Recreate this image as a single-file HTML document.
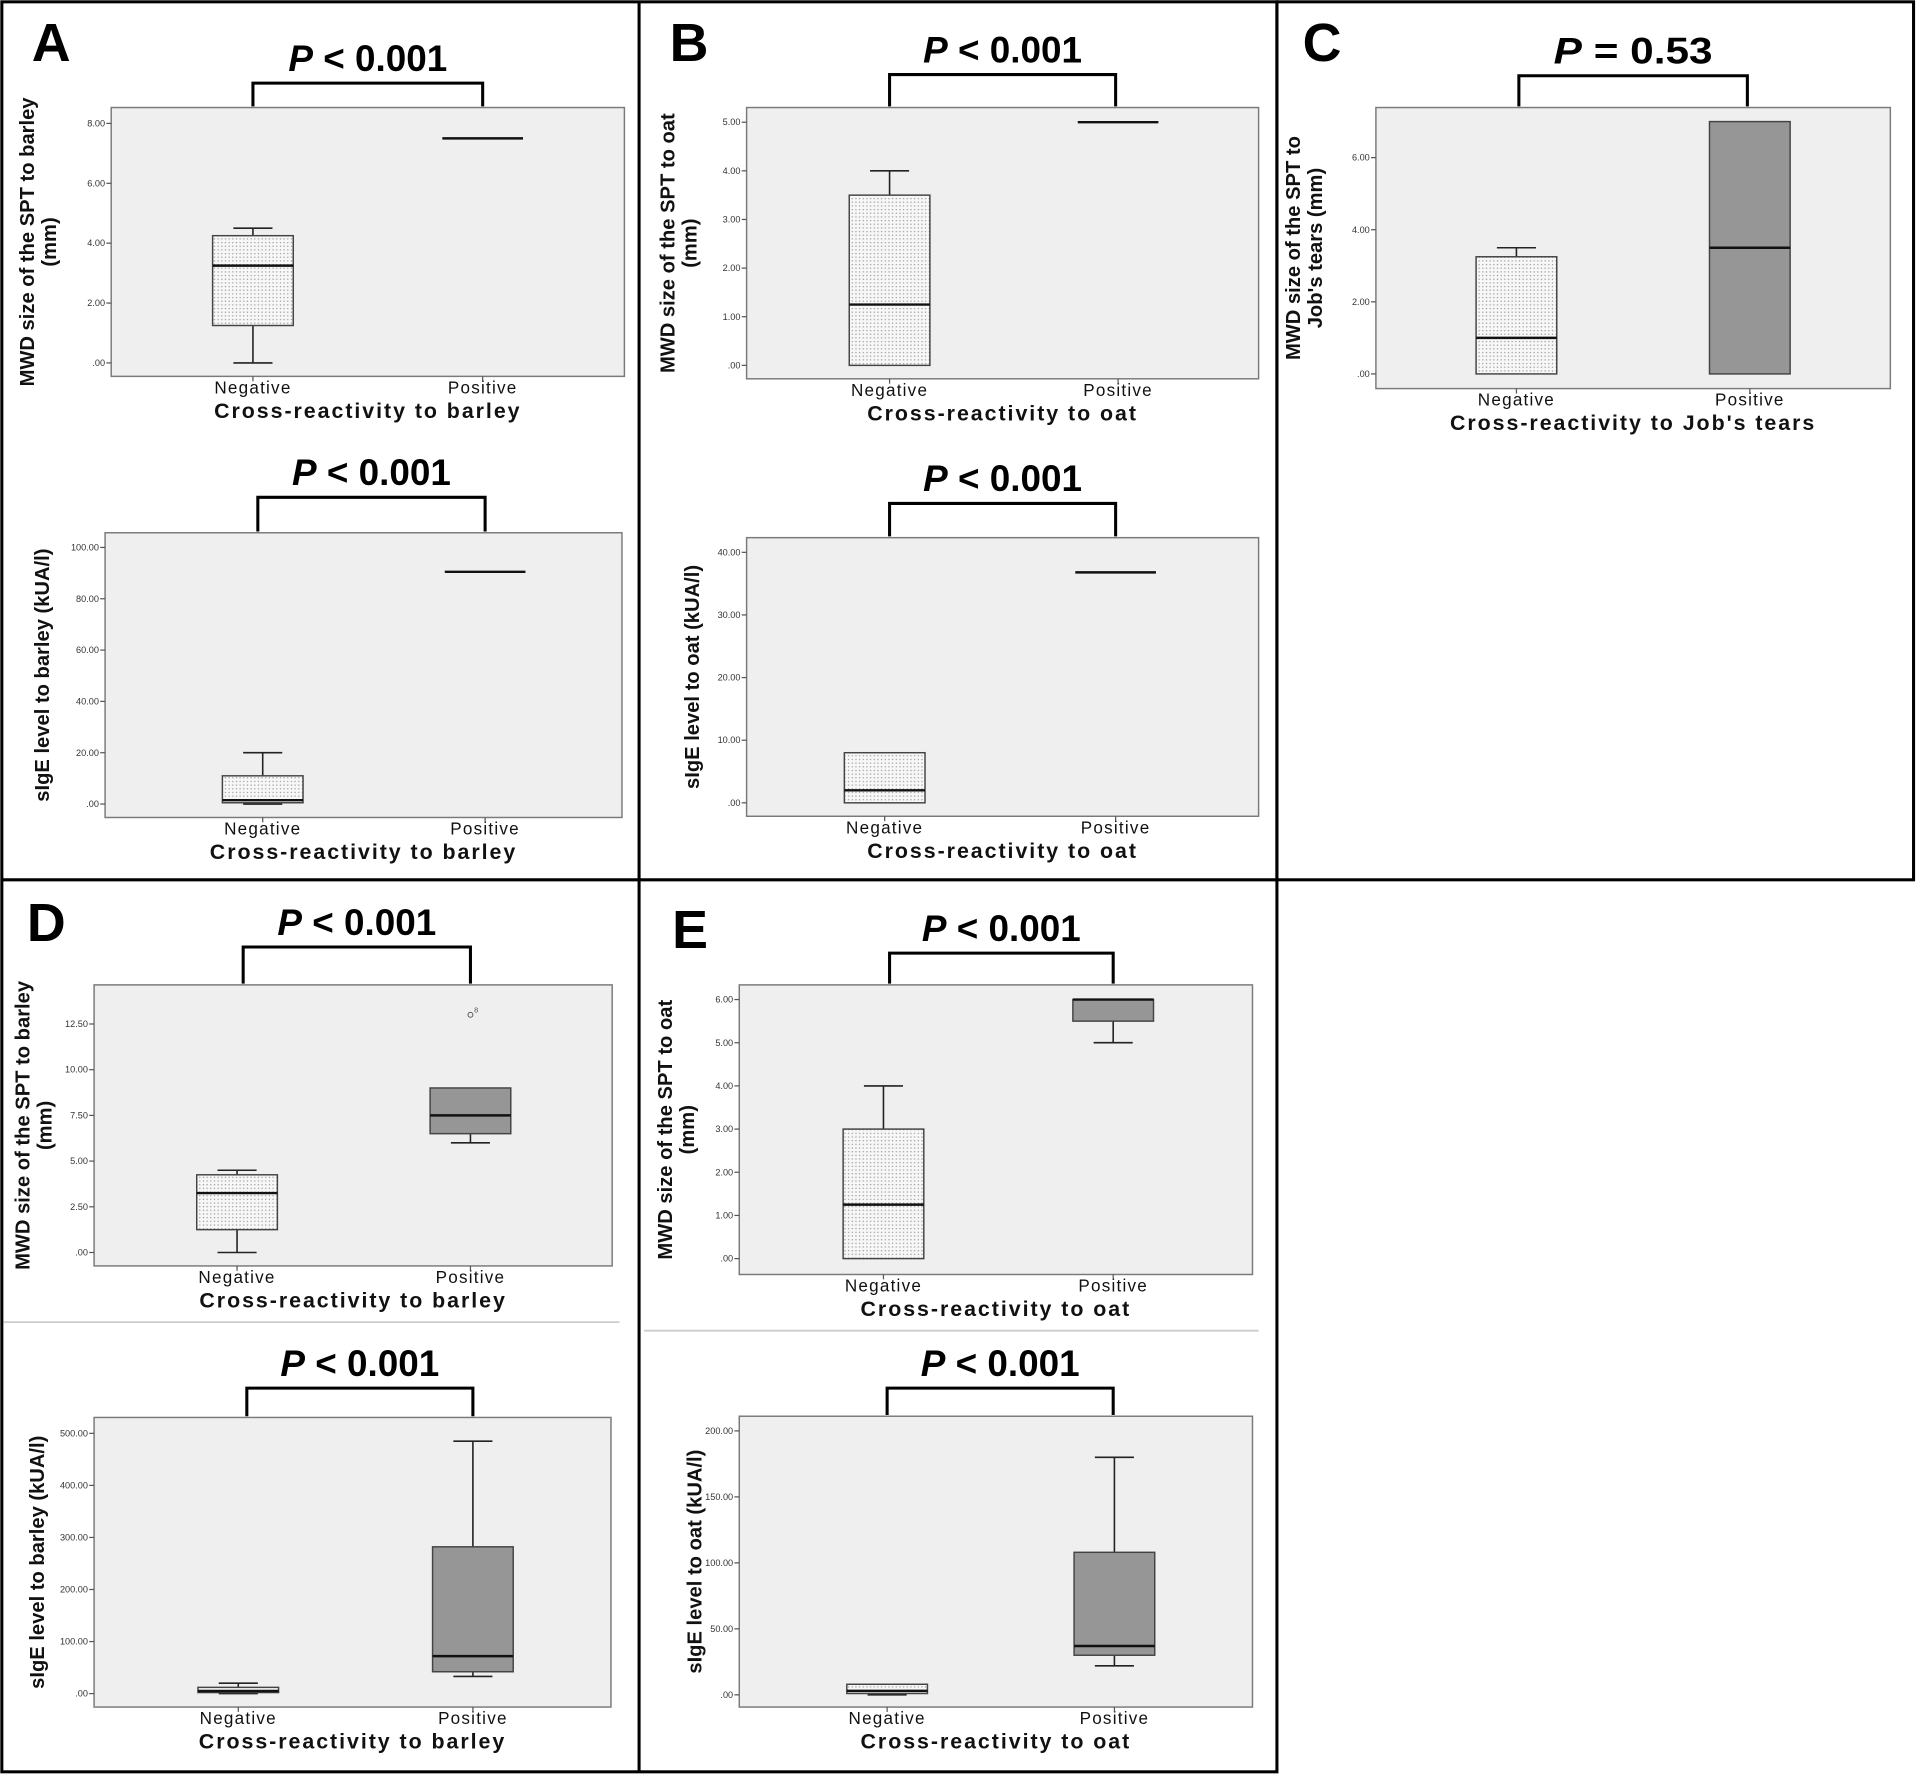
<!DOCTYPE html>
<html><head><meta charset="utf-8"><style>
html,body{margin:0;padding:0;background:#fff;}
svg{display:block;}
</style></head><body>
<svg id="fig" width="1916" height="1775" viewBox="0 0 1568 1452.6" xmlns="http://www.w3.org/2000/svg">
<defs>
<pattern id="dots" width="3" height="3" patternUnits="userSpaceOnUse">
<rect width="3" height="3" fill="#f7f7f7"/><rect x="1" y="0" width="1" height="1" fill="#9a9a9a"/>
</pattern>
</defs>
<g fill="none" stroke="#000" stroke-width="2.5">
<rect x="1.5" y="1.5" width="1043.5" height="1448.5"/>
<rect x="1045" y="1.5" width="521" height="718.5"/>
<line x1="523" y1="1.5" x2="523" y2="1450"/>
<line x1="1.5" y1="720" x2="1045" y2="720"/>
</g>
<line x1="3" y1="1082" x2="507" y2="1082" stroke="#ccc" stroke-width="1.5"/>
<line x1="527" y1="1089" x2="1030" y2="1089" stroke="#ccc" stroke-width="1.5"/>
<g font-family="Liberation Sans, sans-serif" font-weight="bold" font-size="44" fill="#000">
<text x="26" y="50">A</text>
<text x="548" y="50">B</text>
<text x="1066" y="50">C</text>
<text x="22" y="770">D</text>
<text x="550" y="776">E</text>
</g>
</svg>
<script>
// Data arrays: [min, q1, median, q3, max]
const negA1 = [0, 1.25, 3.25, 4.25, 4.5];
const posA1 = [7.5, 7.5, 7.5, 7.5, 7.5];
const negA2 = [0, 0.5, 1.5, 11, 20];
const posA2 = [90.5, 90.5, 90.5, 90.5, 90.5];
const negB1 = [0, 0, 1.25, 3.5, 4];
const posB1 = [5, 5, 5, 5, 5];
const negB2 = [0, 0, 2, 8, 8];
const posB2 = [36.8, 36.8, 36.8, 36.8, 36.8];
const negC = [0, 0, 1, 3.25, 3.5];
const posC = [0, 0, 3.5, 7, 7];
const negD1 = [0, 1.25, 3.25, 4.25, 4.5];
const posD1 = [6, 6.5, 7.5, 9, 9];
const outD1 = [13];
const negD2 = [0, 2, 5, 12, 20];
const posD2 = [33, 42, 72, 282, 485];
const negE1 = [0, 0, 1.25, 3, 4];
const posE1 = [5, 5.5, 6, 6, 6];
const negE2 = [0, 1, 3, 8, 8];
const posE2 = [22, 30, 37, 108, 180];
const categories = ["Negative", "Positive"];
const ticksA1 = [0, 2, 4, 6, 8];
const ticksA2 = [0, 20, 40, 60, 80, 100];
const ticksB1 = [0, 1, 2, 3, 4, 5];
const ticksB2 = [0, 10, 20, 30, 40];
const ticksC = [0, 2, 4, 6];
const ticksD1 = [0, 2.5, 5, 7.5, 10, 12.5];
const ticksD2 = [0, 100, 200, 300, 400, 500];
const ticksE1 = [0, 1, 2, 3, 4, 5, 6];
const ticksE2 = [0, 50, 100, 150, 200];
const pLabels = ["< 0.001", "< 0.001", "< 0.001", "< 0.001", "= 0.53", "< 0.001", "< 0.001", "< 0.001", "< 0.001"];

const NS = "http://www.w3.org/2000/svg";
const svg = document.getElementById("fig");
function mk(tag, attrs, parent) {
  const e = document.createElementNS(NS, tag);
  for (const k in attrs) e.setAttribute(k, attrs[k]);
  (parent || svg).appendChild(e);
  return e;
}
function fmt(v) {
  let s = v.toFixed(2);
  if (s.startsWith("0")) s = s.slice(1);
  return s;
}
function plot(cfg) {
  const g = mk("g", {});
  
  
  const bg = mk("rect", {x: cfg.x0, y: cfg.y0, width: cfg.x1 - cfg.x0, height: cfg.y1 - cfg.y0, fill: "#efefef", stroke: "#7a7a7a", "stroke-width": 1.2}, g);
  
  
  const ticks = cfg.ticks;
  const vmin = ticks[0], vmax = ticks[ticks.length - 1];
  const y = v => cfg.tb + (v - vmin) / (vmax - vmin) * (cfg.tt - cfg.tb);
  ticks.forEach(t => {
    const tl = mk("line", {x1: cfg.x0 - 4, x2: cfg.x0, y1: y(t), y2: y(t), stroke: "#555", "stroke-width": 1}, g);
    
    
    const tx = mk("text", {x: cfg.x0 - 5, y: y(t) + 2.5, "font-size": 7.5, "text-anchor": "end", fill: "#333", "font-family": "Liberation Sans, sans-serif"}, g);
    tx.textContent = fmt(t);
    
    
  });
  const series = [cfg.neg, cfg.pos];
  const xs = [cfg.xn, cfg.xp];
  series.forEach((d, i) => {
    const cx = xs[i], hw = 33, cw = 16;
    const bx = mk("g", {}, g);
    
    
    const lw = {stroke: "#222", "stroke-width": 1.3};
    if (d[4] > d[3]) {
      mk("line", Object.assign({x1: cx, x2: cx, y1: y(d[3]), y2: y(d[4])}, lw), bx);
      mk("line", Object.assign({x1: cx - cw, x2: cx + cw, y1: y(d[4]), y2: y(d[4])}, lw), bx);
    }
    if (d[1] > d[0]) {
      mk("line", Object.assign({x1: cx, x2: cx, y1: y(d[0]), y2: y(d[1])}, lw), bx);
      mk("line", Object.assign({x1: cx - cw, x2: cx + cw, y1: y(d[0]), y2: y(d[0])}, lw), bx);
    }
    if (d[3] > d[1]) {
      mk("rect", {x: cx - hw, y: y(d[3]), width: 2 * hw, height: y(d[1]) - y(d[3]), fill: cfg.fill[i] ? "#969696" : "url(#dots)", stroke: "#444", "stroke-width": 1.2}, bx);
    }
    mk("line", {x1: cx - hw, x2: cx + hw, y1: y(d[2]), y2: y(d[2]), stroke: "#111", "stroke-width": 2}, bx);
    const lab = mk("text", {x: cx, y: cfg.y1 + 14, "font-size": 14, "text-anchor": "middle", fill: "#111", "letter-spacing": "1", "font-family": "Liberation Sans, sans-serif"}, g);
    lab.textContent = categories[i];
    
    
    mk("line", {x1: cx, x2: cx, y1: cfg.y1, y2: cfg.y1 + 4, stroke: "#555"}, g);
  });
  if (cfg.out) {
    cfg.out.forEach(v => {
      const c = mk("circle", {cx: cfg.xp, cy: y(v), r: 2, fill: "none", stroke: "#555", "stroke-width": 0.8}, g);
      
      
      const ol = mk("text", {x: cfg.xp + 3, y: y(v) - 2, "font-size": 6, fill: "#555", "font-family": "Liberation Sans, sans-serif"}, g);
      ol.textContent = "8";
    });
  }
  const xt = mk("text", {x: (cfg.x0 + cfg.x1) / 2, y: cfg.y1 + 34, "font-size": 17.5, "font-weight": "bold", "text-anchor": "middle", fill: "#111", "letter-spacing": "1.6", "font-family": "Liberation Sans, sans-serif"}, g);
  xt.textContent = cfg.xtitle;
  
  
  const cy = (cfg.y0 + cfg.y1) / 2;
  const yt = mk("text", {transform: `translate(${cfg.ytx},${cy}) rotate(-90)`, "font-size": 16.5, "font-weight": "bold", "text-anchor": "middle", fill: "#111", "font-family": "Liberation Sans, sans-serif"}, g);
  
  
  cfg.ytitle.forEach((line, k) => {
    const ts = mk("tspan", {x: 0, dy: k === 0 ? (cfg.ytitle.length > 1 ? -2 : 6) : 18}, yt);
    ts.textContent = line;
  });
  const bk = mk("path", {d: `M${cfg.bx0},${cfg.y0 - 1} V${cfg.by} H${cfg.bx1} V${cfg.y0 - 1}`, fill: "none", stroke: "#000", "stroke-width": 2.5}, g);
  
  
  const pt = mk("text", {x: (cfg.bx0 + cfg.bx1) / 2, y: cfg.by - 10, "font-size": 30, "font-weight": "bold", "text-anchor": "middle", fill: "#000", "font-family": "Liberation Sans, sans-serif", textLength: 130, lengthAdjust: "spacingAndGlyphs"}, g);
  
  
  const ip = mk("tspan", {"font-style": "italic"}, pt); ip.textContent = "P";
  const rest = mk("tspan", {}, pt); rest.textContent = " " + cfg.p;
}
plot({name:"chart-a-spt", x0:91,x1:511,y0:88,y1:308, tt:101,tb:297, ticks:ticksA1, neg:negA1,pos:posA1, xn:207,xp:395, fill:[0,0], bx0:207,bx1:395,by:68, p:pLabels[0], xtitle:"Cross-reactivity to barley", ytitle:["MWD size of the SPT to barley","(mm)"], ytx:30});
plot({name:"chart-a-sige", x0:86,x1:509,y0:436,y1:669, tt:448,tb:658, ticks:ticksA2, neg:negA2,pos:posA2, xn:215,xp:397, fill:[0,0], bx0:211,bx1:397,by:407, p:pLabels[1], xtitle:"Cross-reactivity to barley", ytitle:["sIgE level to barley (kUA/l)"], ytx:34});
plot({name:"chart-b-spt", x0:611,x1:1030,y0:88,y1:310, tt:100,tb:299, ticks:ticksB1, neg:negB1,pos:posB1, xn:728,xp:915, fill:[0,0], bx0:728,bx1:913,by:61, p:pLabels[2], xtitle:"Cross-reactivity to oat", ytitle:["MWD size of the SPT to oat","(mm)"], ytx:554});
plot({name:"chart-b-sige", x0:611,x1:1030,y0:440,y1:668, tt:452,tb:657, ticks:ticksB2, neg:negB2,pos:posB2, xn:724,xp:913, fill:[0,0], bx0:728,bx1:913,by:412, p:pLabels[3], xtitle:"Cross-reactivity to oat", ytitle:["sIgE level to oat (kUA/l)"], ytx:566});
plot({name:"chart-c-spt", x0:1126,x1:1547,y0:88,y1:318, tt:129,tb:306, ticks:ticksC, neg:negC,pos:posC, xn:1241,xp:1432, fill:[0,1], bx0:1243,bx1:1430,by:62, p:pLabels[4], xtitle:"Cross-reactivity to Job's tears", ytitle:["MWD size of the SPT to","Job's tears (mm)"], ytx:1066});
plot({name:"chart-d-spt", x0:77,x1:501,y0:806,y1:1036, tt:838,tb:1025, ticks:ticksD1, neg:negD1,pos:posD1, out:outD1, xn:194,xp:385, fill:[0,1], bx0:199,bx1:385,by:775, p:pLabels[5], xtitle:"Cross-reactivity to barley", ytitle:["MWD size of the SPT to barley","(mm)"], ytx:26});
plot({name:"chart-d-sige", x0:77,x1:500,y0:1160,y1:1397, tt:1173,tb:1386, ticks:ticksD2, neg:negD2,pos:posD2, xn:195,xp:387, fill:[0,1], bx0:202,bx1:387,by:1136, p:pLabels[6], xtitle:"Cross-reactivity to barley", ytitle:["sIgE level to barley (kUA/l)"], ytx:30});
plot({name:"chart-e-spt", x0:605,x1:1025,y0:806,y1:1043, tt:818,tb:1030, ticks:ticksE1, neg:negE1,pos:posE1, xn:723,xp:911, fill:[0,1], bx0:728,bx1:911,by:780, p:pLabels[7], xtitle:"Cross-reactivity to oat", ytitle:["MWD size of the SPT to oat","(mm)"], ytx:552});
plot({name:"chart-e-sige", x0:605,x1:1025,y0:1159,y1:1397, tt:1171,tb:1387, ticks:ticksE2, neg:negE2,pos:posE2, xn:726,xp:912, fill:[0,1], bx0:726,bx1:911,by:1136, p:pLabels[8], xtitle:"Cross-reactivity to oat", ytitle:["sIgE level to oat (kUA/l)"], ytx:568});
</script>
</body></html>
